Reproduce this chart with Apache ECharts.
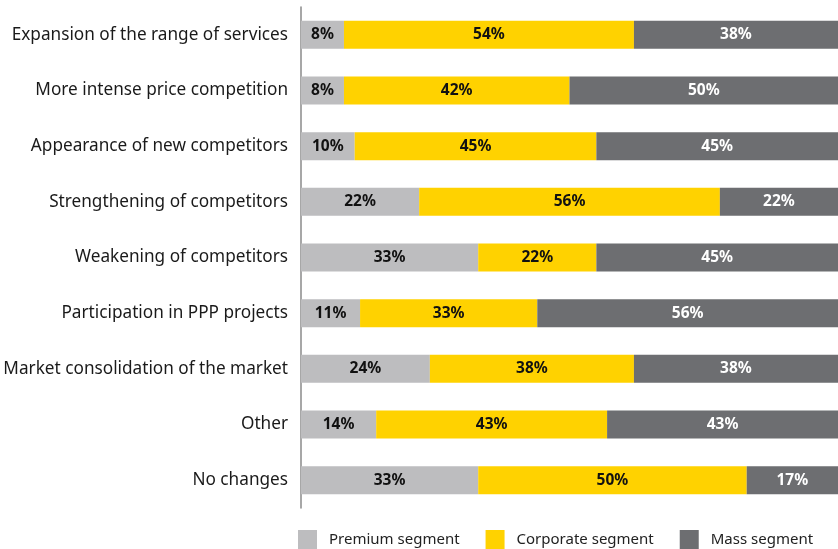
<!DOCTYPE html>
<html><head><meta charset="utf-8">
<script src="https://cdn.jsdelivr.net/npm/echarts@6/dist/echarts.min.js"></script>
<style>html,body{margin:0;padding:0;background:#fff}#c{width:838px;height:549px}</style>
</head><body><div id="c"></div>
<script>
var categories = ["Expansion of the range of services","More intense price competition","Appearance of new competitors","Strengthening of competitors","Weakening of competitors","Participation in PPP projects","Market consolidation of the market","Other","No changes"];
var premium = [8,8,10,22,33,11,24,14,33];
var corporate = [54,42,45,56,22,33,38,43,50];
var mass = [38,50,45,22,45,56,38,43,17];
var seriesNames = ["Premium segment","Corporate segment","Mass segment"];

var font = "'Noto Sans', sans-serif";
function lab(color){return {show:true,position:'inside',formatter:'{c}%',color:color,fontSize:15.5,fontWeight:'bold',fontFamily:font};}
var chart = echarts.init(document.getElementById('c'));
chart.setOption({
  animation:false,
  grid:{left:301,right:0,top:7,bottom:41,containLabel:false},
  legend:{bottom:0,left:298,padding:0,itemWidth:19,itemHeight:19,itemGap:26,icon:'rect',
    textStyle:{fontSize:15,color:'#222',fontFamily:font,padding:[0,0,0,7]},data:seriesNames},
  xAxis:{type:'value',min:0,max:100,show:false},
  yAxis:{type:'category',data:categories,inverse:true,
    axisLine:{show:true,lineStyle:{color:'#8a8a8a',width:1.5}},
    axisTick:{show:false},
    axisLabel:{fontSize:17.2,color:'#1a1a1a',margin:13,fontFamily:font}},
  series:[
    {name:seriesNames[0],type:'bar',stack:'a',barWidth:28,data:premium,itemStyle:{color:'#BDBDBF'},label:lab('#111')},
    {name:seriesNames[1],type:'bar',stack:'a',barWidth:28,data:corporate,itemStyle:{color:'#FFD200'},label:lab('#111')},
    {name:seriesNames[2],type:'bar',stack:'a',barWidth:28,data:mass,itemStyle:{color:'#6D6E71'},label:lab('#fff')}
  ]
});
</script></body></html>
